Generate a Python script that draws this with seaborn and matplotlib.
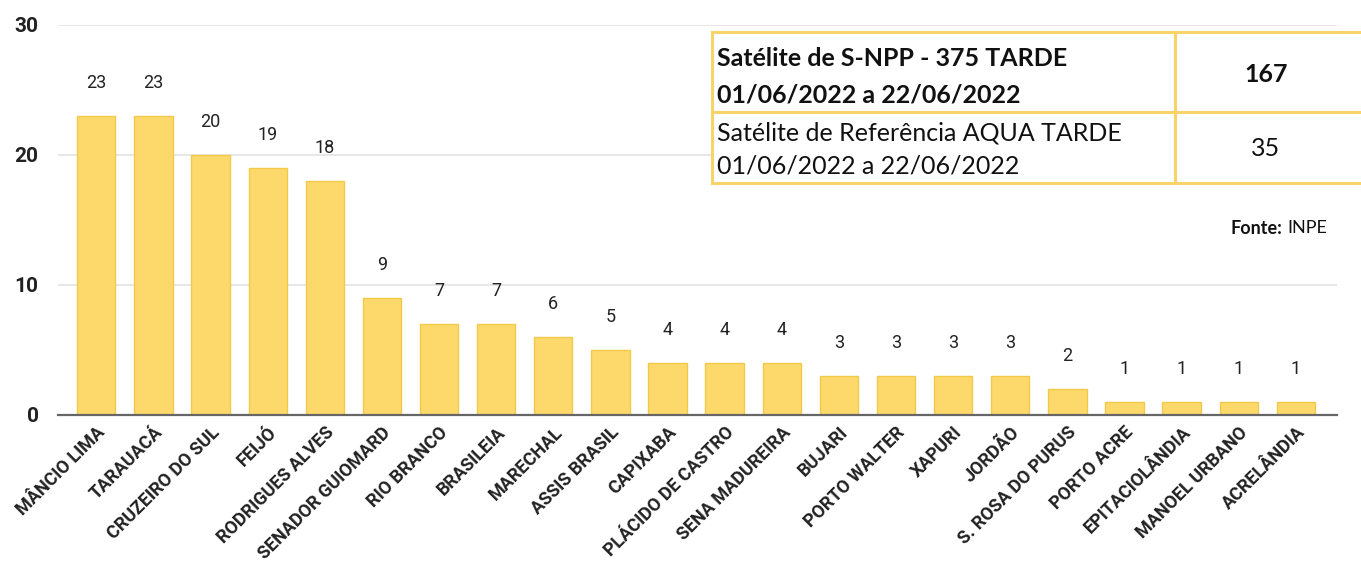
import pandas as pd
import matplotlib.pyplot as plt
import seaborn as sns
from matplotlib.patches import Rectangle

# Data
municipios = ["MÂNCIO LIMA", "TARAUACÁ", "CRUZEIRO DO SUL", "FEIJÓ", "RODRIGUES ALVES",
              "SENADOR GUIOMARD", "RIO BRANCO", "BRASILEIA", "MARECHAL", "ASSIS BRASIL",
              "CAPIXABA", "PLÁCIDO DE CASTRO", "SENA MADUREIRA", "BUJARI", "PORTO WALTER",
              "XAPURI", "JORDÃO", "S. ROSA DO PURUS", "PORTO ACRE", "EPITACIOLÂNDIA",
              "MANOEL URBANO", "ACRELÂNDIA"]
focos = [23, 23, 20, 19, 18, 9, 7, 7, 6, 5, 4, 4, 4, 3, 3, 3, 3, 2, 1, 1, 1, 1]
yticks = [0, 10, 20, 30]
tabela_linha1 = ["Satélite de S-NPP - 375 TARDE", "01/06/2022 a 22/06/2022"]
tabela_linha2 = ["Satélite de Referência AQUA TARDE", "01/06/2022 a 22/06/2022"]
total_npp = 167
total_aqua = 35

df = pd.DataFrame({"municipio": municipios, "focos": focos})

sns.set_style("white")
plt.rcParams['font.family'] = ['Roboto', 'DejaVu Sans']

W, H = 1361, 573
fig = plt.figure(figsize=(W / 100, H / 100), dpi=100)
ax = fig.add_axes([58 / W, 1 - 415 / H, (1337 - 58) / W, (415 - 25) / H])

sns.barplot(data=df, x="municipio", y="focos", ax=ax, color="#FDD96C",
            edgecolor="#F3C94A", linewidth=1, width=0.67, saturation=1, zorder=3)

ax.set_ylim(0, 30)
ax.set_xlim(-0.67, 21.72)
ax.set_yticks(yticks)
ax.set_yticklabels([str(t) for t in yticks], fontsize=15, fontweight="bold", color="#222222")
ax.set_xlabel("")
ax.set_ylabel("")
ax.grid(axis="y", color="#E3E3E3", linewidth=1.2, zorder=0)
ax.tick_params(axis="both", length=0)
ax.tick_params(axis="y", pad=14)
ax.tick_params(axis="x", pad=6)
for s in ["top", "right", "left"]:
    ax.spines[s].set_visible(False)
ax.spines["bottom"].set_color("#666666")
ax.spines["bottom"].set_linewidth(1.6)
ax.spines["bottom"].set_zorder(4)

plt.setp(ax.get_xticklabels(), rotation=45, ha="right", rotation_mode="anchor",
         fontsize=13, fontweight="bold", color="#222222")

for i, v in enumerate(focos):
    ax.annotate(str(v), (i, v), xytext=(0, 24), textcoords="offset points",
                ha="center", va="center", fontsize=13, color="#222222")

# Table box
def fx(x):
    return x / W

def fy(y):
    return 1 - y / H

border = "#F8D36A"
for (x0, y0, x1, y1) in [(712, 32, 1175, 112), (1175, 32, 1400, 112),
                         (712, 112, 1175, 183), (1175, 112, 1400, 183)]:
    fig.add_artist(Rectangle((fx(x0), fy(y1)), fx(x1) - fx(x0), fy(y0) - fy(y1),
                             transform=fig.transFigure, facecolor="white",
                             edgecolor=border, linewidth=2.2, zorder=5))

tfont = ['Lato', 'DejaVu Sans']
tsize = 18
fig.text(fx(717), fy(59), tabela_linha1[0], fontsize=tsize, fontweight="bold", family=tfont,
         va="center", ha="left", color="#111111", zorder=6)
fig.text(fx(717), fy(95), tabela_linha1[1], fontsize=tsize, fontweight="bold", family=tfont,
         va="center", ha="left", color="#111111", zorder=6)
fig.text(fx(717), fy(133), tabela_linha2[0], fontsize=tsize, family=tfont,
         va="center", ha="left", color="#111111", zorder=6)
fig.text(fx(717), fy(166), tabela_linha2[1], fontsize=tsize, family=tfont,
         va="center", ha="left", color="#111111", zorder=6)
fig.text(fx(1266), fy(75), str(total_npp), fontsize=tsize, fontweight="bold", family=tfont,
         va="center", ha="center", color="#111111", zorder=6)
fig.text(fx(1266), fy(148), str(total_aqua), fontsize=tsize, family=tfont,
         va="center", ha="center", color="#111111", zorder=6)
fig.text(fx(1282), fy(228), "Fonte:", fontsize=13, fontweight="bold", family=tfont,
         va="center", ha="right", color="#111111")
fig.text(fx(1327), fy(228), "INPE", fontsize=13, family=tfont,
         va="center", ha="right", color="#111111")

plt.savefig("out.png", dpi=100)
